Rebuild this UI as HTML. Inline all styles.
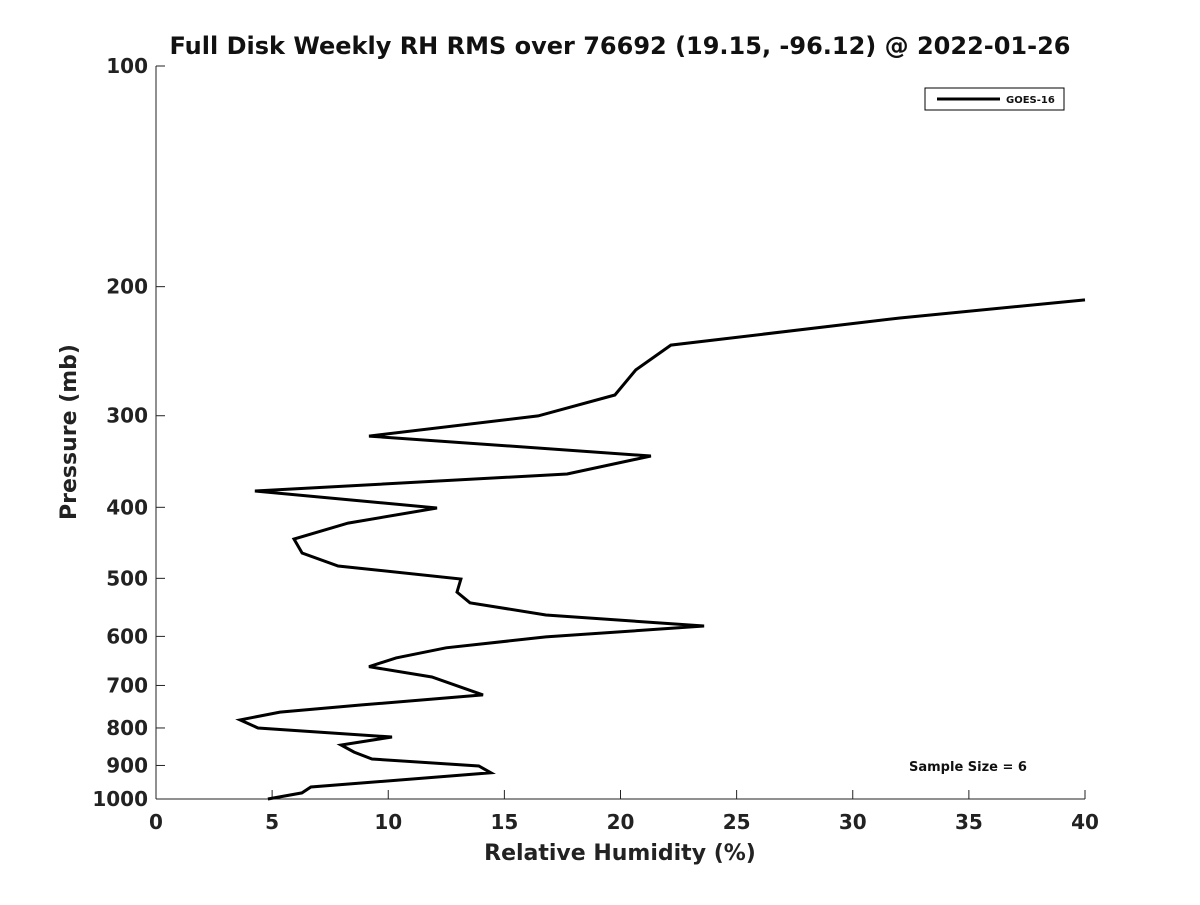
<!DOCTYPE html>
<html><head><meta charset="utf-8"><style>
body{margin:0;background:#fff;font-family:"Liberation Sans","DejaVu Sans",sans-serif;}
</style></head><body>
<svg id="chart" width="1200" height="900" xmlns="http://www.w3.org/2000/svg">
<rect width="1200" height="900" fill="#fff"/>
<text x="620" y="54" text-anchor="middle" font-family="DejaVu Sans, sans-serif" font-weight="bold" font-size="24" fill="#111">Full Disk Weekly RH RMS over 76692 (19.15, -96.12) @ 2022-01-26</text>
<g id="axes"></g>
<path id="series" fill="none" stroke="#000" stroke-width="3"/>
<g>
<rect x="925" y="88" width="139" height="22" fill="#fff" stroke="#000" stroke-width="1"/>
<line x1="937" y1="99" x2="1000" y2="99" stroke="#000" stroke-width="3"/>
<text x="1006" y="103" font-family="DejaVu Sans, sans-serif" font-weight="bold" font-size="10" fill="#111">GOES-16</text>
</g>
<text x="968" y="771" text-anchor="middle" font-family="DejaVu Sans, sans-serif" font-weight="bold" font-size="13" fill="#111">Sample Size = 6</text>
<text x="620" y="860" text-anchor="middle" font-family="DejaVu Sans, sans-serif" font-weight="bold" font-size="22" fill="#222">Relative Humidity (%)</text>
<text transform="translate(76,432) rotate(-90)" text-anchor="middle" font-family="DejaVu Sans, sans-serif" font-weight="bold" font-size="22" fill="#222">Pressure (mb)</text>
</svg>
<script>
const rhValues=[40,32.03,22.17,20.66,19.76,16.45,9.17,21.31,17.7,4.26,12.1,8.27,5.94,6.29,7.84,13.13,12.96,13.52,16.79,23.6,16.79,12.49,10.34,9.17,11.88,14.08,8.87,5.34,3.62,4.39,10.16,7.97,8.53,9.3,13.9,14.42,6.67,6.28,4.82];
const pressureLevels=[208.5,220.7,240.3,259.8,281.1,300.2,319.8,340.5,360.3,380,400.9,420.3,441.9,461.8,481,501,522,540,561,580.7,601,622,642,660,681.6,721,744,761,780,800,823,844,863,882,901.6,921,963,981,1000];
const xTicks=[0,5,10,15,20,25,30,35,40];
const yTicks=[100,200,300,400,500,600,700,800,900,1000];
const X0=156,X1=1085,Y0=66,Y1=799;
const xs=v=>X0+(v-0)/(40-0)*(X1-X0);
const ys=p=>Y0+(Math.log10(p)-2)/(1)*(Y1-Y0);
const NS="http://www.w3.org/2000/svg";
const axes=document.getElementById('axes');
function mk(tag,attrs){const e=document.createElementNS(NS,tag);for(const k in attrs)e.setAttribute(k,attrs[k]);axes.appendChild(e);return e;}
const xa=mk('line',{x1:X0,y1:Y1,x2:X1,y2:Y1,stroke:'#222','stroke-width':1});


const ya=mk('line',{x1:X0,y1:Y0,x2:X0,y2:Y1,stroke:'#222','stroke-width':1});


xTicks.forEach(t=>{const x=xs(t);
mk('line',{x1:x,y1:Y1,x2:x,y2:Y1-9,stroke:'#222'});
const tx=mk('text',{x:x,y:Y1+30,'text-anchor':'middle','font-family':'DejaVu Sans, sans-serif','font-weight':'bold','font-size':20,fill:'#222'});
tx.textContent=t;

});
yTicks.forEach(t=>{const y=ys(t);
mk('line',{x1:X0,y1:y,x2:X0+9,y2:y,stroke:'#222'});
const tx=mk('text',{x:X0-8,y:y+7,'text-anchor':'end','font-family':'DejaVu Sans, sans-serif','font-weight':'bold','font-size':20,fill:'#222'});
tx.textContent=t;

});
document.getElementById('series').setAttribute('d',rhValues.map((v,i)=>(i?'L':'M')+xs(v).toFixed(1)+','+ys(pressureLevels[i]).toFixed(1)).join(' '));
</script>
</body></html>
